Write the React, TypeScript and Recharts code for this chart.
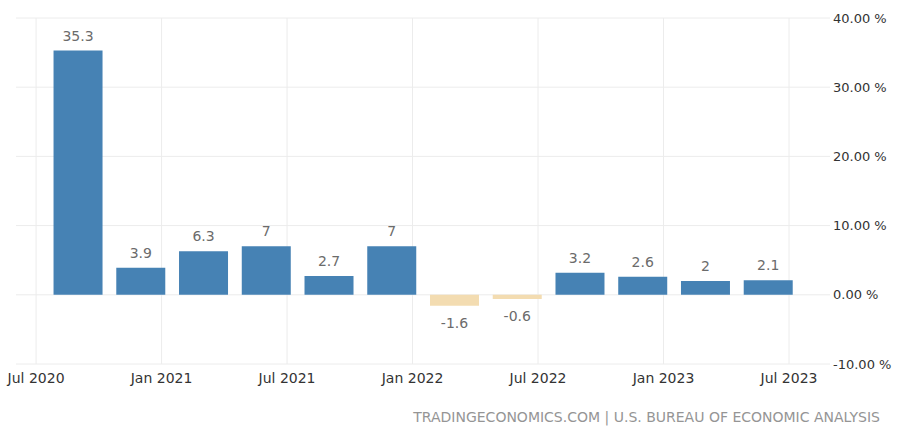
import React from "react";
import { BarChart, Bar, XAxis, YAxis, CartesianGrid, Cell, LabelList } from "recharts";

// quarter-end months and q/q annualised growth, %
const quarters = ["2020-09", "2020-12", "2021-03", "2021-06", "2021-09", "2021-12", "2022-03", "2022-06", "2022-09", "2022-12", "2023-03", "2023-06"];
const growth = [35.3, 3.9, 6.3, 7, 2.7, 7, -1.6, -0.6, 3.2, 2.6, 2, 2.1];

const xTickLabels = ["Jul 2020", "Jan 2021", "Jul 2021", "Jan 2022", "Jul 2022", "Jan 2023", "Jul 2023"];
const yTicks = [-10, 0, 10, 20, 30, 40];

// months since Jul 2020
const toMonth = (s: string) => {
  const [y, m] = s.split("-").map(Number);
  return (y - 2020) * 12 + (m - 7);
};

const data = quarters.map((q, i) => ({ q, m: toMonth(q), v: growth[i] }));
const xTicks = xTickLabels.map((_, i) => i * 6);
const X_DOMAIN: [number, number] = [-0.96, 37.96];

const FONT = "'DejaVu Sans', Verdana, sans-serif";
const GRID = "#ececec";

const ValueLabel = (props: any) => {
  const { x, y, width, height, value } = props;
  const top = Math.min(y, y + height);
  const bottom = Math.max(y, y + height);
  const cx = x + width / 2;
  const ty = value >= 0 ? top - 10 : bottom + 22;
  return (
    <text x={cx} y={ty} textAnchor="middle" fill="#6b6b6b" fontSize={14} fontFamily={FONT}>
      {value}
    </text>
  );
};

// vertical grid only at the date ticks, not at the plot edges
const verticalLines = ({ xAxis, offset }: any) => {
  if (xAxis && typeof xAxis.scale === "function") return xTicks.map((t) => xAxis.scale(t));
  const [d0, d1] = X_DOMAIN;
  return xTicks.map((t) => offset.left + ((t - d0) / (d1 - d0)) * offset.width);
};

export default function App() {
  return (
    <div style={{ position: "absolute", left: 0, top: 0, width: 900, height: 436, background: "#fff" }}>
      <BarChart width={900} height={436} data={data} margin={{ top: 18, right: 0, bottom: 42, left: 16 }}>
        <CartesianGrid stroke={GRID} verticalCoordinatesGenerator={verticalLines} />
        <XAxis
          dataKey="m"
          type="number"
          domain={X_DOMAIN}
          ticks={xTicks}
          interval={0}
          allowDataOverflow
          height={30}
          axisLine={false}
          tickLine={false}
          tickSize={0}
          tickMargin={9}
          tickFormatter={(v: number) => xTickLabels[v / 6]}
          tick={{ fill: "#333", fontSize: 14, fontFamily: FONT }}
        />
        <YAxis
          orientation="right"
          domain={[-10, 40]}
          ticks={yTicks}
          width={70}
          axisLine={false}
          tickLine={false}
          tickSize={0}
          tickMargin={3}
          tickFormatter={(v: number) => `${v.toFixed(2)} %`}
          tick={{ fill: "#333", fontSize: 13, fontFamily: FONT }}
        />
        <Bar dataKey="v" barSize={49} isAnimationActive={false}>
          {data.map((d) => (
            <Cell key={d.q} fill={d.v >= 0 ? "#4682b4" : "#f3dcb1"} />
          ))}
          <LabelList dataKey="v" content={<ValueLabel />} />
        </Bar>
      </BarChart>
      <div
        style={{
          position: "absolute",
          right: 20,
          top: 409,
          fontFamily: FONT,
          fontSize: 14,
          color: "#959595",
          whiteSpace: "nowrap",
        }}
      >
        TRADINGECONOMICS.COM | U.S. BUREAU OF ECONOMIC ANALYSIS
      </div>
    </div>
  );
}
